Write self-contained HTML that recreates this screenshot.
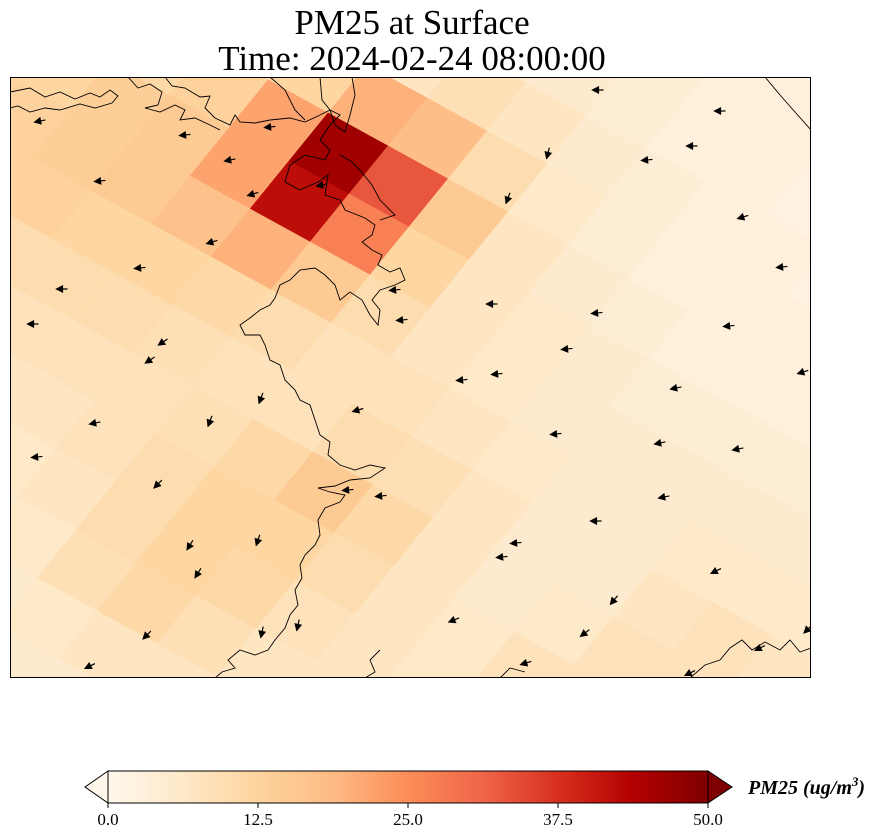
<!DOCTYPE html>
<html><head><meta charset="utf-8"><style>
html,body{margin:0;background:#fff;width:884px;height:839px;overflow:hidden;font-family:"Liberation Serif",serif}
svg{display:block}
</style></head><body>
<svg id="s" width="884" height="839" viewBox="0 0 884 839" xmlns="http://www.w3.org/2000/svg">
<defs>
<clipPath id="mapclip"><rect x="10" y="77" width="801" height="601"/></clipPath>
<linearGradient id="cbg" x1="0" x2="1" y1="0" y2="0">
<stop offset="0" stop-color="#fff7ec"/><stop offset="0.125" stop-color="#fee8c8"/><stop offset="0.25" stop-color="#fdd49e"/><stop offset="0.375" stop-color="#fdbb84"/><stop offset="0.5" stop-color="#fc8d59"/><stop offset="0.625" stop-color="#ef6548"/><stop offset="0.75" stop-color="#d7301f"/><stop offset="0.875" stop-color="#b30000"/><stop offset="1" stop-color="#7f0000"/>
</linearGradient>
</defs>
<text x="412" y="34" text-anchor="middle" font-size="35">PM25 at Surface</text>
<text x="412" y="70" text-anchor="middle" font-size="35">Time: 2024-02-24 08:00:00</text>
<g clip-path="url(#mapclip)">
<g id="cells"></g>
<g fill="none" stroke="#000" stroke-width="0.9">
<path d="M10,92 L30,88 L45,97 L60,92 L75,99 L90,93 L100,97 L110,90 L118,96 L112,103 L95,108 L80,104 L60,110 L45,108 L30,112 L18,106 L10,108"/>
<path d="M128,77 L138,88 L150,84 L162,92 L158,105 L145,108 L160,112 L175,105 L185,110 L180,120 L195,118 L210,125 L220,130"/>
<path d="M165,77 L172,86 L185,88 L200,97 L210,96 L205,108 L215,118 L230,125 L235,115 L240,122 L255,123 L270,120 L290,118 L305,122 L318,116 L330,110 L340,115 L330,125 L320,140 L330,150 L325,160 L305,155 L290,165 L285,182 L300,190 L318,182 L328,175 L325,195 L340,200 L345,210 L365,218 L375,225 L372,235 L362,242 L372,250 L382,255 L378,265 L390,272 L400,268 L405,280 L395,285 L380,290 L372,300 L380,310 L378,325 L370,315 L362,300 L350,292 L340,300 L335,285 L325,275 L315,268 L300,270 L290,280 L280,285 L275,298 L270,305 L260,310 L250,318 L240,325 L245,335 L260,335 L265,345 L270,360 L280,365 L285,380 L295,390 L300,400 L310,405 L315,420 L320,435 L330,442 L328,455 L340,465 L355,470 L370,465 L385,468 L370,478 L350,480 L335,486 L318,488 L330,492 L345,495 L340,502 L325,508 L318,520 L320,535 L315,545 L305,555 L300,565 L302,578 L295,590 L298,605 L290,615 L285,628 L275,640 L268,650 L255,655 L240,650 L228,660 L235,668 L222,672 L215,678"/>
<path d="M270,77 L285,90 L295,110 L305,120"/>
<path d="M320,77 L322,100 L330,110 L335,125 L345,132 L350,115 L355,95 L352,77"/>
<path d="M340,155 L352,162 L360,170 L372,185 L380,200 L395,215 L380,220"/>
<path d="M765,77 L780,95 L795,112 L811,130"/>
<path d="M690,678 L705,665 L720,660 L730,648 L742,640 L752,650 L765,642 L780,650 L790,640 L800,652 L811,648"/>
<path d="M500,678 L510,668 L525,672"/>
<path d="M380,650 L370,660 L375,672 L365,678"/>
</g>
<g id="arrows"></g>
</g>
<rect x="10.5" y="77.5" width="800" height="600" fill="none" stroke="#000" stroke-width="1"/>
<g>
<polygon points="108,771 85,787 108,803" fill="#fff7ec" stroke="#000" stroke-width="1"/>
<polygon points="708,771 732,787 708,803" fill="#7f0000" stroke="#000" stroke-width="1"/>
<rect x="108" y="771" width="600" height="32" fill="url(#cbg)" stroke="#000" stroke-width="1"/>
<g id="cbticks" font-size="17" text-anchor="middle"></g>
<text x="748" y="794" font-size="20" font-weight="bold" font-style="italic">PM25 (ug/m<tspan font-size="13" dy="-8">3</tspan><tspan dy="8">)</tspan></text>
</g>
</svg>
<script>
// grid rows: j from 6 down to -9, i from 0..15
const gridJ = [6,5,4,3,2,1,0,-1,-2,-3,-4,-5,-6,-7,-8,-9];
const pm25Values = [
[3,3,3,3,3,3,3,3,3,3,3,3,3,3,3,3],
[5,5,5,5,5,5,5,4,3,3,2,2,2,2,2,2],
[7,7,7,7,6,6,5,4,3,3,2,2,2,2,2,2],
[10,10,10,8,7,9,7,5,4,3,3,2,2,2,2,2],
[11,11,11,12,20,18,10,6,4,3,3,3,3,3,3,3],
[11,11,13,22,46,33,15,7,5,4,3,3,3,3,3,3],
[12,14,15,22,42,27,12,7,6,5,4,4,4,4,4,4],
[13,14,15,17,20,15,10,7,6,5,5,5,5,5,5,5],
[13,13,12,12,11,10,8,8,7,6,5,5,6,6,6,6],
[10,10,10,10,9,8,8,10,9,7,5,5,7,8,7,7],
[8,8,8,8,8,9,11,15,11,7,5,6,8,8,8,8],
[7,7,7,7,8,10,12,12,10,7,6,8,8,8,8,8],
[6,6,6,6,7,10,12,11,8,7,6,7,7,7,7,7],
[5,5,5,5,6,9,11,9,7,7,6,6,6,6,6,6],
[5,5,5,5,5,6,7,7,7,6,6,6,6,6,6,6],
[4,4,4,4,4,5,5,5,5,5,5,5,5,5,5,5]];
const windX = [40,100,185,230,212,140,62,33,150,163,261,210,95,37,158,190,198,147,90,258,262,298,270,322,253,598,720,548,647,692,743,782,508,395,402,492,597,729,567,462,497,676,803,358,556,660,738,381,596,516,502,664,716,614,585,454,526,690,760,808,348];
const windY = [121,181,135,160,242,268,289,324,360,342,398,421,423,457,484,545,573,635,666,540,632,625,127,185,194,90,111,153,160,146,217,267,198,290,320,304,313,326,349,380,374,388,372,410,434,443,449,496,521,543,557,497,571,600,633,620,663,673,648,629,490];
const windU = [-1,-1,-1,-1,-1,-1,-1,-1,-0.6,-0.6,-0.3,-0.3,-1,-1,-0.6,-0.5,-0.5,-0.7,-1,-0.3,-0.2,-0.2,-1,-1,-1,-0.6,-1,-0.2,-1,-1,-1,-1,-0.3,-1,-1,-1,-1,-1,-1,-1,-1,-1,-1,-0.7,-1,-1,-1,-1,-0.7,-1,-1,-1,-1,-0.5,-0.8,-0.5,-1,-1,-1,-0.7,-1];
const windV = [0.2,0.1,0.1,0.2,0.3,0.1,0,0,0.4,0.4,0.8,0.8,0.2,0.1,0.6,0.8,0.8,0.7,0.5,0.9,0.9,0.9,0.1,0.2,0.3,0,0,0.8,0.1,0,0.3,0.1,0.8,0.1,0.1,0,0.1,0.1,0.1,0.1,0.1,0.2,0.3,0.2,0.1,0.2,0.2,0.1,0,0.1,0.1,0.2,0.5,0.6,0.6,0.2,0.3,0.5,0.5,0.7,0.1];
const cbTickVals = [0,12.5,25,37.5,50];
const cbTickLabels = ["0.0","12.5","25.0","37.5","50.0"];

const NS="http://www.w3.org/2000/svg";
const stops=[[0,[255,247,236]],[0.125,[254,232,200]],[0.25,[253,212,158]],[0.375,[253,187,132]],[0.5,[252,141,89]],[0.625,[239,101,72]],[0.75,[215,48,31]],[0.875,[179,0,0]],[1,[127,0,0]]];
function cmap(v){let t=Math.max(0,Math.min(1,v/50));for(let k=1;k<stops.length;k++){if(t<=stops[k][0]){const a=stops[k-1],b=stops[k];const f=(t-a[0])/(b[0]-a[0]);const c=a[1].map((x,n)=>Math.round(x+(b[1][n]-x)*f));return`rgb(${c[0]},${c[1]},${c[2]})`;}}return"rgb(127,0,0)";}
const O=[10,77],U=[60,33],V=[39,-48];
function gp(i,j){return[O[0]+i*U[0]+j*V[0],O[1]+i*U[1]+j*V[1]];}
const cells=document.getElementById('cells');
gridJ.forEach((j,r)=>{pm25Values[r].forEach((val,i)=>{
 const p=[gp(i,j),gp(i+1,j),gp(i+1,j+1),gp(i,j+1)];
 const poly=document.createElementNS(NS,'polygon');
 poly.setAttribute('points',p.map(q=>q.join(',')).join(' '));
 poly.setAttribute('fill',cmap(val));poly.setAttribute('stroke',cmap(val));poly.setAttribute('stroke-width','0.6');
 
 
 cells.appendChild(poly);});});
const ar=document.getElementById('arrows');
windX.forEach((x,k)=>{
 const y=windY[k];let u=windU[k],v=windV[k];const m=Math.hypot(u,v);u/=m;v/=m;
 const L=11,tx=x+u*L/2,ty=y+v*L/2,bx=x-u*L/2,by=y-v*L/2;
 const hx=tx-u*6,hy=ty-v*6,px=-v*3,py=u*3;
 const g=document.createElementNS(NS,'path');
 g.setAttribute('d',`M${bx},${by} L${hx},${hy} M${tx},${ty} L${hx+px},${hy+py} L${hx-px},${hy-py} Z`);
 g.setAttribute('fill','#000');g.setAttribute('stroke','#000');g.setAttribute('stroke-width','1.2');
 
 
 ar.appendChild(g);});
const cbt=document.getElementById('cbticks');
cbTickVals.forEach((v,k)=>{const x=108+v/50*600;
 const l=document.createElementNS(NS,'line');l.setAttribute('x1',x);l.setAttribute('x2',x);l.setAttribute('y1',803);l.setAttribute('y2',808);l.setAttribute('stroke','#000');
 
 
 cbt.appendChild(l);
 const t=document.createElementNS(NS,'text');t.setAttribute('x',x);t.setAttribute('y',825);t.textContent=cbTickLabels[k];
 
 
 cbt.appendChild(t);});
</script>
</body></html>
